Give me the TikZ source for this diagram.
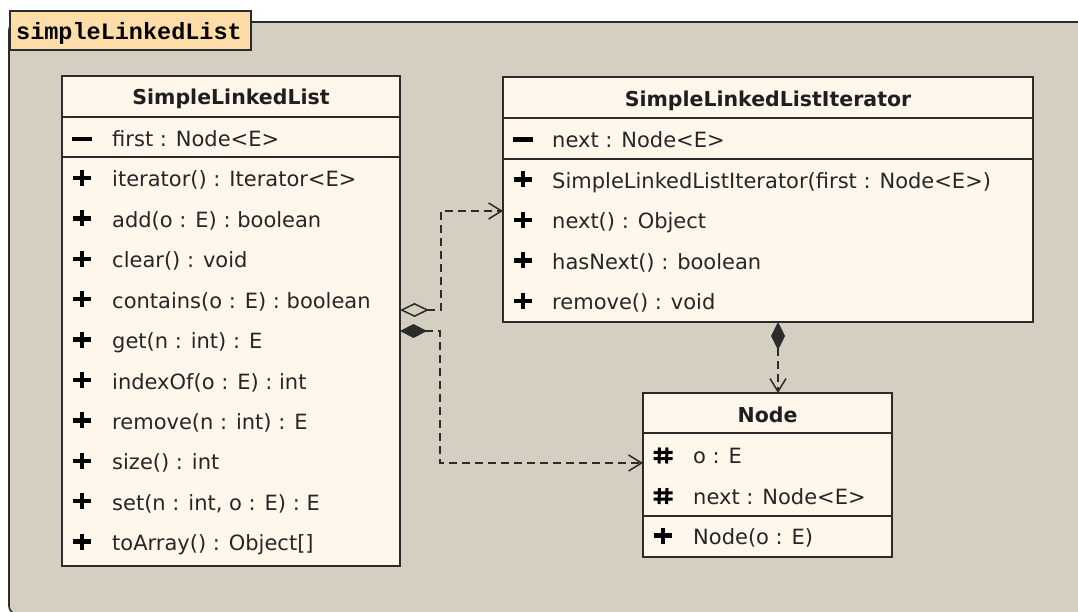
\documentclass[tikz,border=0pt]{standalone}
\usepackage{fontspec}
\setmainfont{DejaVu Sans}
\newfontfamily\tabfont{Liberation Mono}
\usetikzlibrary{arrows.meta}
\definecolor{pkgfill}{HTML}{D4CFC0}
\definecolor{tabfill}{HTML}{FFDDA9}
\definecolor{boxfill}{HTML}{FFF6EC}
\definecolor{ink}{HTML}{2B2B2B}
\tikzset{
  pub/.pic={\draw[line width=4.5pt, black] (-9,0) -- (9,0) (0,-8) -- (0,8);},
  priv/.pic={\draw[line width=4.5pt, black] (-10,0) -- (10,0);},
  prot/.pic={\draw[line width=3pt, black] (-3.5,-8) -- (-4,8) (4,-8) -- (3.5,8)
               (-9.5,-3.2) -- (9.5,-3.2) (-9.5,3.2) -- (9.5,3.2);},
  openbarb/.tip={Straight Barb[length=13pt, width=16pt]},
}
\begin{document}
\begin{tikzpicture}[x=1pt,y=-1pt,
  classbox/.style={draw=ink, fill=boxfill, line width=1.6pt, inner sep=0pt, outer sep=0pt},
  sepline/.style={draw=ink, line width=1.6pt},
  hdr/.style={anchor=base, inner sep=0pt, font=\fontsize{20.5}{24}\selectfont\bfseries, text=black!88},
  member/.style={anchor=base west, inner sep=0pt, font=\fontsize{21}{25}\selectfont, text=black!85},
  dep/.style={draw=ink, line width=1.5pt, dash pattern=on 8pt off 5pt},
]
\useasboundingbox (0,0) rectangle (1078,612);
\clip (0,0) rectangle (1078,612);

% package frame and its tab
\draw[fill=pkgfill, draw=ink, line width=1.6pt, rounded corners=8pt] (9,22) rectangle (1090,614);
\node[draw=ink, fill=tabfill, line width=1.6pt, inner sep=0pt, minimum width=241pt, minimum height=39pt, anchor=north west] (tab) at (9,10) {};
\node[anchor=base, inner sep=0pt, font={\fontsize{23.5}{27}\tabfont\bfseries}] (pkgname) at (129,40) {simpleLinkedList};

% class SimpleLinkedList
\node[classbox, minimum width=338pt, minimum height=490pt] (sll) at (231,321) {};
\draw[sepline] (sll.west |- 0,117) -- (sll.east |- 0,117);
\draw[sepline] (sll.west |- 0,157) -- (sll.east |- 0,157);
\node[hdr] (sllname) at (231,104.5) {SimpleLinkedList};
\pic at (82,139) {priv};
\node[member] (sllfirst) at (112,146.7) {first : Node<E>};
\foreach \mtext [count=\i from 0] in {{iterator() : Iterator<E>}, {add(o : E) : boolean}, {clear() : void}, {contains(o : E) : boolean}, {get(n : int) : E}, {indexOf(o : E) : int}, {remove(n : int) : E}, {size() : int}, {set(n : int, o : E) : E}, {toArray() : Object[]}} {
  \pic at (82,{178+40.4*\i}) {pub};
  \node[member] (sllm\i) at (112,{187+40.4*\i}) {\mtext};
}

% class SimpleLinkedListIterator
\node[classbox, minimum width=530pt, minimum height=245pt] (itr) at (768,199.5) {};
\draw[sepline] (itr.west |- 0,118) -- (itr.east |- 0,118);
\draw[sepline] (itr.west |- 0,159) -- (itr.east |- 0,159);
\node[hdr] (itrname) at (768,106.5) {SimpleLinkedListIterator};
\pic at (523,139.5) {priv};
\node[member] (itrnext) at (552,147.3) {next : Node<E>};
\foreach \mtext [count=\i from 0] in {{SimpleLinkedListIterator(first : Node<E>)}, {next() : Object}, {hasNext() : boolean}, {remove() : void}} {
  \pic at (523,{179.3+40.5*\i}) {pub};
  \node[member] (itrm\i) at (552,{188.3+40.5*\i}) {\mtext};
}

% class Node
\node[classbox, minimum width=249pt, minimum height=164pt] (nd) at (767.5,475) {};
\draw[sepline] (nd.west |- 0,433) -- (nd.east |- 0,433);
\draw[sepline] (nd.west |- 0,516) -- (nd.east |- 0,516);
\node[hdr] (ndname) at (767.5,422.5) {Node};
\pic at (663,455.5) {prot};
\node[member] (nda0) at (693,463.3) {o : E};
\pic at (663,496) {prot};
\node[member] (nda1) at (693,504) {next : Node<E>};
\pic at (663,535.5) {pub};
\node[member] (ndm0) at (693,544.5) {Node(o : E)};

% relations
\draw[dep, {Diamond[open, length=29pt, width=14pt]}-{openbarb}]
  ([yshift=11pt]sll.east) -- ++(41,0) |- ([yshift=-11.5pt]itr.west);
\draw[dep, {Diamond[length=27pt, width=14pt]}-{openbarb}]
  ([yshift=-10pt]sll.east) -- ++(40,0) |- ([yshift=12pt]nd.west);
\draw[dep, {Diamond[length=28pt, width=14pt]}-{openbarb}]
  ([xshift=10pt]itr.south) -- ([xshift=10.5pt]nd.north);
\end{tikzpicture}
\end{document}
